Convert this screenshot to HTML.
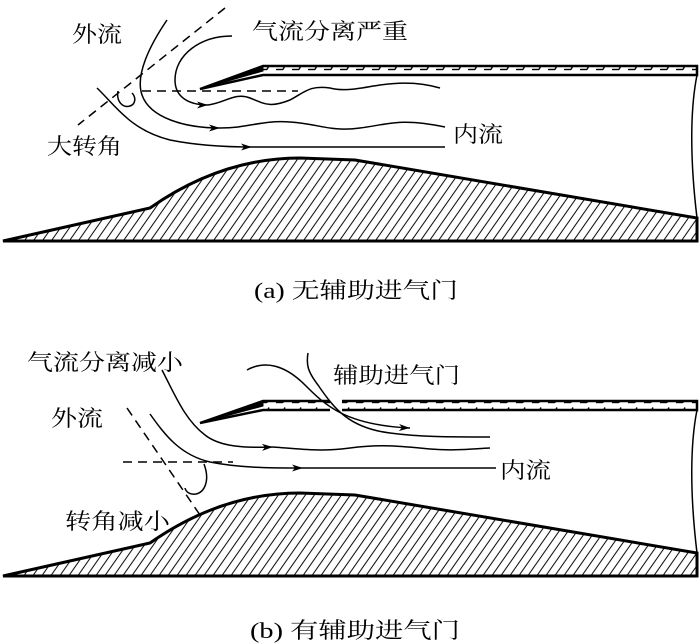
<!DOCTYPE html>
<html><head><meta charset="utf-8"><style>
html,body{margin:0;padding:0;background:#fff}
svg{display:block}
text{font-family:"Liberation Serif","Noto Serif CJK SC","Noto Sans CJK SC",serif;font-size:22px;fill:#000}
</style></head><body>
<svg width="700" height="643" viewBox="0 0 700 643" xmlns="http://www.w3.org/2000/svg">
<defs>
<pattern id="h" patternUnits="userSpaceOnUse" width="9" height="14" patternTransform="skewX(-35)">
<line x1="4" y1="0" x2="4" y2="14" stroke="#000" stroke-width="1.2"/>
</pattern>
<pattern id="w" patternUnits="userSpaceOnUse" width="16" height="9" x="0" y="0">
<line x1="4" y1="6.5" x2="11" y2="6.5" stroke="#000" stroke-width="1.4"/>
<line x1="11" y1="6.5" x2="13" y2="2.5" stroke="#000" stroke-width="1.4"/>
</pattern>
<marker id="a" markerWidth="12" markerHeight="8" refX="11" refY="4" orient="auto" markerUnits="userSpaceOnUse">
<path d="M0,0.5 L11,4 L0,7.5 L3,4 Z" fill="#000"/>
</marker>
</defs>

<!-- ===== Panel (a) ===== -->
<g fill="none" stroke="#000">
<path d="M3,241 L150,208 C190,180 240,158 300,158 L355,160 L697,218 L697,241 Z" fill="url(#h)" stroke-width="3"/>
<rect x="263" y="66" width="434" height="9" fill="url(#w)" stroke="none"/>
<path d="M200,89 L263,66 L697,66 L697,75 L263,75 Z" stroke-width="2.5"/>
<path d="M200,89 L263,66 L263,71 Z" fill="#000"/>
<path d="M697,75 C690,110 690,160 697,218" stroke-width="1.5"/>
<path d="M225,8 L78,125" stroke-width="1.5" stroke-dasharray="9,6"/>
<path d="M142,91 L298,91" stroke-width="1.5" stroke-dasharray="9,6"/>
<path d="M118,91 C116,103 124,108 130,106 C136,104 136,97 132,93" stroke-width="1.5"/>
<path d="M167,20 C150,45 135,75 142,95 C150,118 185,128 220,128" stroke-width="1.5" marker-end="url(#a)"/>
<path d="M220,128 C250,128 260,120 290,122 C320,124 330,132 360,128 C390,124 400,118 445,127" stroke-width="1.5"/>
<path d="M232,36 C200,36 175,55 175,80 C175,98 190,105 208,105" stroke-width="1.5" marker-end="url(#a)"/>
<path d="M208,105 C225,103 235,92 250,98 C265,104 270,108 290,100 C305,92 310,85 330,88 C345,92 360,88 380,85 C400,82 420,82 440,88" stroke-width="1.5"/>
<path d="M97,88 C115,105 130,130 170,140 C195,145 225,147 252,147" stroke-width="1.5" marker-end="url(#a)"/>
<path d="M252,147 L445,147" stroke-width="1.5"/>
</g>
<text x="72" y="42" textLength="50" lengthAdjust="spacingAndGlyphs">外流</text>
<text x="252" y="39" textLength="156" lengthAdjust="spacingAndGlyphs">气流分离严重</text>
<text x="47" y="154" textLength="75" lengthAdjust="spacingAndGlyphs">大转角</text>
<text x="453" y="142" textLength="50" lengthAdjust="spacingAndGlyphs">内流</text>
<text x="254" y="298" textLength="204" lengthAdjust="spacingAndGlyphs">(a) 无辅助进气门</text>

<!-- ===== Panel (b) ===== -->
<g fill="none" stroke="#000">
<path d="M3,576 L150,543 C190,515 240,493 300,493 L355,495 L697,553 L697,576 Z" fill="url(#h)" stroke-width="3"/>
<rect x="263" y="401" width="67" height="9" fill="url(#w)" stroke="none"/>
<rect x="342" y="401" width="355" height="9" fill="url(#w)" stroke="none"/>
<path d="M330,401 L263,401 L200,423 L263,410 L330,410" stroke-width="2.5"/>
<path d="M200,423 L263,401 L263,406 Z" fill="#000"/>
<path d="M342,401 L697,401 L697,410 L342,410" stroke-width="2.5"/>
<path d="M697,410 C690,445 690,495 697,553" stroke-width="1.5"/>
<path d="M127,408 L200,515" stroke-width="1.5" stroke-dasharray="9,6"/>
<path d="M123,462 L233,462" stroke-width="1.5" stroke-dasharray="9,6"/>
<path d="M204,464 C210,480 205,492 196,494 C190,495 186,492 185,488" stroke-width="1.5"/>
<path d="M247,370 C265,360 285,365 305,385 C325,405 345,425 410,428" stroke-width="1.5" marker-end="url(#a)"/>
<path d="M308,353 C306,365 308,372 318,385 C335,410 350,428 390,433 C420,437 450,437 490,437" stroke-width="1.5"/>
<path d="M162,370 C175,395 185,420 205,435 C220,447 245,448 273,447" stroke-width="1.5" marker-end="url(#a)"/>
<path d="M273,447 C300,449 320,452 350,448 C380,444 400,446 430,449 C455,451 470,449 490,448" stroke-width="1.5"/>
<path d="M150,414 C165,435 180,455 210,462 C240,468 270,468 303,468" stroke-width="1.5" marker-end="url(#a)"/>
<path d="M303,468 L496,468" stroke-width="1.5"/>
</g>
<text x="27" y="370" textLength="156" lengthAdjust="spacingAndGlyphs">气流分离减小</text>
<text x="51" y="426" textLength="52" lengthAdjust="spacingAndGlyphs">外流</text>
<text x="65" y="529" textLength="105" lengthAdjust="spacingAndGlyphs">转角减小</text>
<text x="333" y="383" textLength="127" lengthAdjust="spacingAndGlyphs">辅助进气门</text>
<text x="500" y="478" textLength="51" lengthAdjust="spacingAndGlyphs">内流</text>
<text x="250" y="638" textLength="210" lengthAdjust="spacingAndGlyphs">(b) 有辅助进气门</text>
</svg>
</body></html>
